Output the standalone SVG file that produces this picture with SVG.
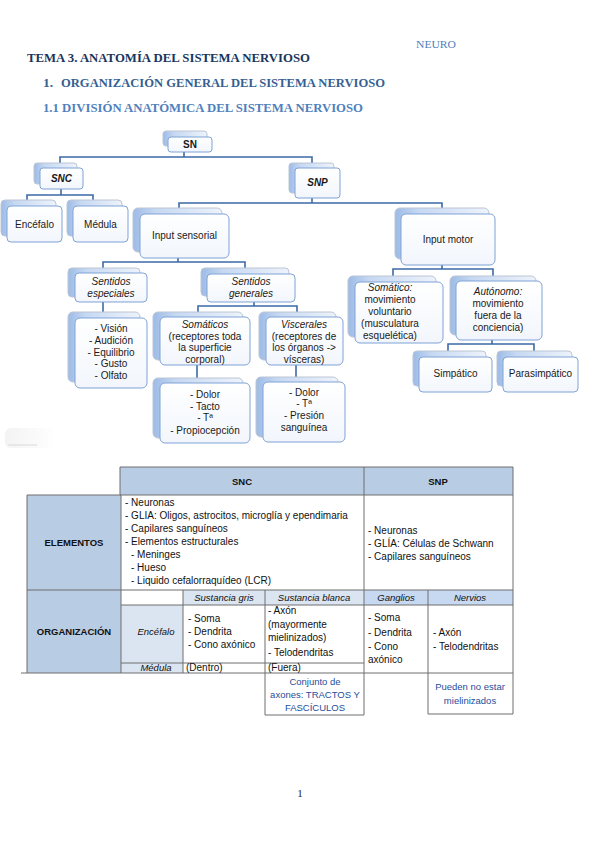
<svg xmlns="http://www.w3.org/2000/svg" width="599" height="848" viewBox="0 0 599 848">
<defs>
<linearGradient id="gb" x1="0" y1="0" x2="1" y2="0">
<stop offset="0" stop-color="#9dbbe6"/>
<stop offset="0.25" stop-color="#c6d8f2"/>
<stop offset="1" stop-color="#eef3fb"/>
</linearGradient>
<linearGradient id="gf" x1="0" y1="0" x2="0" y2="1">
<stop offset="0" stop-color="#ffffff"/>
<stop offset="1" stop-color="#f2f6fc"/>
</linearGradient>
<linearGradient id="gg" x1="0" y1="0" x2="1" y2="0">
<stop offset="0" stop-color="#eeeeee"/>
<stop offset="1" stop-color="#ffffff"/>
</linearGradient>
<style>
.bk{fill:url(#gb);stroke:#bcc6d4;stroke-width:1}
.fr{fill:url(#gf);stroke:#7fa3d6;stroke-width:1}
.t{font-family:"Liberation Sans",Arial,sans-serif;font-size:10px;fill:#1a1a1a;text-anchor:middle}
.ti{font-style:italic}
.tb{font-weight:bold}
.cn{fill:none;stroke:#3d69a6;stroke-width:1.6}
.h{font-family:"Liberation Serif","DejaVu Serif",serif;font-weight:bold}
.c{stroke:#6e6e6e;stroke-width:1}
.tt{font-family:"Liberation Sans",Arial,sans-serif;font-size:10px;fill:#111}
.tl{font-size:9.5px}
.tc{text-anchor:middle}
.bl{fill:#1f4e9a}
</style>
</defs>
<rect x="0" y="0" width="599" height="848" fill="#ffffff"/>

<g id="titles">
<text class="h" x="416" y="48" font-size="10.5" fill="#4f81bd" textLength="40" lengthAdjust="spacingAndGlyphs" style="font-weight:normal">NEURO</text>
<text class="h" x="27" y="62" font-size="12.5" fill="#17365d" textLength="283" lengthAdjust="spacingAndGlyphs">TEMA 3. ANATOMÍA DEL SISTEMA NERVIOSO</text>
<text class="h" x="43" y="87" font-size="13.5" fill="#365f91">1.</text>
<text class="h" x="61" y="87" font-size="13.5" fill="#365f91" textLength="324" lengthAdjust="spacingAndGlyphs">ORGANIZACIÓN GENERAL DEL SISTEMA NERVIOSO</text>
<text class="h" x="43" y="112" font-size="13" fill="#4f81bd" textLength="320" lengthAdjust="spacingAndGlyphs">1.1 DIVISIÓN ANATÓMICA DEL SISTEMA NERVIOSO</text>
</g>

<g id="connectors">
<path class="cn" d="M184,152 V157 M60,163 V157 H312 V163"/>
<path class="cn" d="M61,189 V195 M27,200 V195 H93 V200"/>
<path class="cn" d="M312,198 V203 M179,208 V203 H442 V208"/>
<path class="cn" d="M178,258 V262 M103,268 V262 H245 V268"/>
<path class="cn" d="M254,302 V306 M198,312 V306 H297 V312"/>
<path class="cn" d="M103,302 V312"/>
<path class="cn" d="M197,365 V378"/>
<path class="cn" d="M296,365 V377"/>
<path class="cn" d="M442,265 V269 M393,276 V269 H493 V276"/>
<path class="cn" d="M492,340 V344 M448,351 V344 H534 V351"/>
</g>

<g id="n-sn"><rect class="bk" x="163" y="131" width="44" height="15" rx="3"/><rect class="fr" x="168" y="137" width="44" height="15" rx="3"/><text class="t tb" x="190" y="148" font-size="9">SN</text></g>
<g id="n-snc"><rect class="bk" x="34" y="163" width="43" height="21" rx="3"/><rect class="fr" x="40" y="168" width="43" height="21" rx="3"/><text class="t tb ti" x="61.5" y="182" font-size="8.5">SNC</text></g>
<g id="n-snp"><rect class="bk" x="289" y="163" width="45" height="30" rx="3"/><rect class="fr" x="295" y="168" width="45" height="30" rx="3"/><text class="t tb ti" x="317.5" y="186" font-size="8.5">SNP</text></g>
<g id="n-encefalo"><rect class="bk" x="1" y="200" width="55" height="36" rx="4"/><rect class="fr" x="7" y="206" width="55" height="36" rx="4"/><text class="t" x="34.5" y="228">Encéfalo</text></g>
<g id="n-medula"><rect class="bk" x="67" y="200" width="55" height="36" rx="4"/><rect class="fr" x="73" y="206" width="55" height="36" rx="4"/><text class="t" x="100.5" y="228">Médula</text></g>
<g id="n-input-sensorial"><rect class="bk" x="133" y="208" width="89" height="44" rx="5"/><rect class="fr" x="140" y="214" width="89" height="44" rx="5"/><text class="t" x="184.5" y="239">Input sensorial</text></g>
<g id="n-input-motor"><rect class="bk" x="395" y="208" width="94" height="51" rx="5"/><rect class="fr" x="401" y="214" width="94" height="51" rx="5"/><text class="t" x="448" y="243">Input motor</text></g>
<g id="n-sent-esp"><rect class="bk" x="68" y="268" width="72" height="29" rx="4"/><rect class="fr" x="75" y="273" width="72" height="29" rx="4"/><text class="t ti" x="111" y="285">Sentidos</text><text class="t ti" x="111" y="297">especiales</text></g>
<g id="n-sent-gen"><rect class="bk" x="201" y="268" width="88" height="28" rx="4"/><rect class="fr" x="207" y="274" width="88" height="28" rx="4"/><text class="t ti" x="251" y="285">Sentidos</text><text class="t ti" x="251" y="297">generales</text></g>
<g id="n-esp-list"><rect class="bk" x="68" y="312" width="72" height="70" rx="5"/><rect class="fr" x="75" y="318" width="72" height="70" rx="5"/>
<text class="t" x="111"><tspan x="111" y="332">- Visión</tspan><tspan x="111" y="344">- Audición</tspan><tspan x="111" y="356">- Equilibrio</tspan><tspan x="111" y="367">- Gusto</tspan><tspan x="111" y="379">- Olfato</tspan></text></g>
<g id="n-somaticos"><rect class="bk" x="153" y="312" width="90" height="48" rx="5"/><rect class="fr" x="160" y="317" width="90" height="48" rx="5"/>
<text class="t" x="205"><tspan class="ti" x="205" y="328">Somáticos</tspan><tspan x="205" y="340">(receptores toda</tspan><tspan x="205" y="351">la superficie</tspan><tspan x="205" y="363">corporal)</tspan></text></g>
<g id="n-viscerales"><rect class="bk" x="259" y="312" width="77" height="48" rx="5"/><rect class="fr" x="266" y="317" width="77" height="48" rx="5"/>
<text class="t" x="304"><tspan class="ti" x="304" y="328">Viscerales</tspan><tspan x="304" y="340">(receptores de</tspan><tspan x="304" y="351">los órganos -&gt;</tspan><tspan x="304" y="363">vísceras)</tspan></text></g>
<g id="n-som-list"><rect class="bk" x="153" y="378" width="90" height="60" rx="5"/><rect class="fr" x="160" y="383" width="90" height="60" rx="5"/>
<text class="t" x="205" font-size="9.5"><tspan x="205" y="398">- Dolor</tspan><tspan x="205" y="410">- Tacto</tspan><tspan x="205" y="421">- Tª</tspan><tspan x="205" y="434">- Propiocepción</tspan></text></g>
<g id="n-visc-list"><rect class="bk" x="256" y="377" width="82" height="60" rx="5"/><rect class="fr" x="263" y="382" width="82" height="60" rx="5"/>
<text class="t" x="304"><tspan x="304" y="396">- Dolor</tspan><tspan x="304" y="407">- Tª</tspan><tspan x="304" y="419">- Presión</tspan><tspan x="304" y="431">sanguínea</tspan></text></g>
<g id="n-somatico"><rect class="bk" x="348" y="276" width="88" height="61" rx="5"/><rect class="fr" x="355" y="282" width="88" height="61" rx="5"/>
<text class="t" x="390"><tspan class="ti" x="390" y="291">Somático:</tspan><tspan x="390" y="303">movimiento</tspan><tspan x="390" y="315">voluntario</tspan><tspan x="390" y="327">(musculatura</tspan><tspan x="390" y="339">esquelética)</tspan></text></g>
<g id="n-autonomo"><rect class="bk" x="450" y="276" width="86" height="59" rx="5"/><rect class="fr" x="456" y="281" width="86" height="59" rx="5"/>
<text class="t" x="498"><tspan class="ti" x="498" y="295">Autónomo:</tspan><tspan x="498" y="307">movimiento</tspan><tspan x="498" y="319">fuera de la</tspan><tspan x="498" y="331">conciencia)</tspan></text></g>
<g id="n-simpatico"><rect class="bk" x="413" y="351" width="73" height="35" rx="4"/><rect class="fr" x="419" y="357" width="73" height="35" rx="4"/><text class="t" x="455.5" y="377">Simpático</text></g>
<g id="n-parasimpatico"><rect class="bk" x="497" y="351" width="75" height="35" rx="4"/><rect class="fr" x="503" y="357" width="75" height="35" rx="4"/><text class="t" x="540.5" y="377">Parasimpático</text></g>

<g id="shadow-artifact"><rect x="5" y="428" width="52" height="20" rx="6" fill="url(#gg)" opacity="0.7"/><line x1="8" y1="445" x2="37" y2="445" stroke="#dadada" stroke-width="1"/></g>

<g id="table">
<rect x="120" y="467" width="244" height="28" fill="#b8cce4"/>
<rect x="364" y="467" width="149" height="28" fill="#b8cce4"/>
<rect x="27" y="495" width="94" height="178" fill="#b8cce4"/>
<rect x="183" y="590" width="181" height="15" fill="#dbe5f1"/>
<rect x="364" y="590" width="149" height="15" fill="#c6d9f1"/>
<rect x="121" y="605" width="62" height="68" fill="#dbe5f1"/>
<g class="c">
<line x1="120" y1="467" x2="513" y2="467"/>
<line x1="120" y1="495" x2="513" y2="495"/>
<line x1="27" y1="495" x2="121" y2="495"/>
<line x1="27" y1="590" x2="513" y2="590"/>
<line x1="121" y1="605" x2="513" y2="605"/>
<line x1="121" y1="663" x2="364" y2="663"/>
<line x1="21" y1="673" x2="513" y2="673"/>
<line x1="265" y1="715" x2="364" y2="715"/>
<line x1="428" y1="714" x2="513" y2="714"/>
<line x1="27" y1="495" x2="27" y2="673"/>
<line x1="120" y1="467" x2="120" y2="495"/>
<line x1="121" y1="495" x2="121" y2="673"/>
<line x1="364" y1="467" x2="364" y2="715"/>
<line x1="513" y1="467" x2="513" y2="714"/>
<line x1="183" y1="590" x2="183" y2="673"/>
<line x1="265" y1="590" x2="265" y2="715"/>
<line x1="428" y1="590" x2="428" y2="714"/>
</g>
<text class="tt tl tc tb" x="242" y="485">SNC</text>
<text class="tt tl tc tb" x="438" y="485">SNP</text>
<text class="tt tl tc tb" x="74" y="546">ELEMENTOS</text>
<text class="tt" x="125"><tspan x="125" y="506">- Neuronas</tspan><tspan x="125" y="519">- GLIA: Oligos, astrocitos, microglía y ependimaria</tspan><tspan x="125" y="532">- Capilares sanguíneos</tspan><tspan x="125" y="545">- Elementos estructurales</tspan><tspan x="131" y="558">- Meninges</tspan><tspan x="131" y="571">- Hueso</tspan><tspan x="131" y="584">- Liquido cefalorraquídeo (LCR)</tspan></text>
<text class="tt" x="368"><tspan x="368" y="534">- Neuronas</tspan><tspan x="368" y="547">- GLÍA: Células de Schwann</tspan><tspan x="368" y="560">- Capilares sanguíneos</tspan></text>
<text class="tt tl tc tb" x="74" y="635">ORGANIZACIÓN</text>
<text class="tt tl tc ti" x="224" y="601">Sustancia gris</text>
<text class="tt tl tc ti" x="314" y="601">Sustancia blanca</text>
<text class="tt tl tc ti" x="396" y="601">Ganglios</text>
<text class="tt tl tc ti" x="470" y="601">Nervios</text>
<text class="tt tl tc ti" x="156" y="635">Encéfalo</text>
<text class="tt tl tc ti" x="156" y="671">Médula</text>
<text class="tt" x="188"><tspan x="188" y="622">- Soma</tspan><tspan x="188" y="635">- Dendrita</tspan><tspan x="188" y="648">- Cono axónico</tspan></text>
<text class="tt" x="268"><tspan x="268" y="614">- Axón</tspan><tspan x="268" y="628">(mayormente</tspan><tspan x="268" y="641">mielinizados)</tspan><tspan x="268" y="656">- Telodendritas</tspan></text>
<text class="tt" x="186" y="671">(Dentro)</text>
<text class="tt" x="268" y="671">(Fuera)</text>
<text class="tt" x="368"><tspan x="368" y="621">- Soma</tspan><tspan x="368" y="636">- Dendrita</tspan><tspan x="368" y="650">- Cono</tspan><tspan x="368" y="663">axónico</tspan></text>
<text class="tt" x="433"><tspan x="433" y="636">- Axón</tspan><tspan x="433" y="650">- Telodendritas</tspan></text>
<text class="tt tl tc bl" x="315"><tspan x="315" y="685">Conjunto de</tspan><tspan x="315" y="698">axones: TRACTOS Y</tspan><tspan x="315" y="711">FASCÍCULOS</tspan></text>
<text class="tt tl tc bl" x="470"><tspan x="470" y="690">Pueden no estar</tspan><tspan x="470" y="704">mielinizados</tspan></text>
</g>

<text x="300" y="797" font-family="Liberation Serif,serif" font-size="11" fill="#222" text-anchor="middle">1</text>
</svg>
